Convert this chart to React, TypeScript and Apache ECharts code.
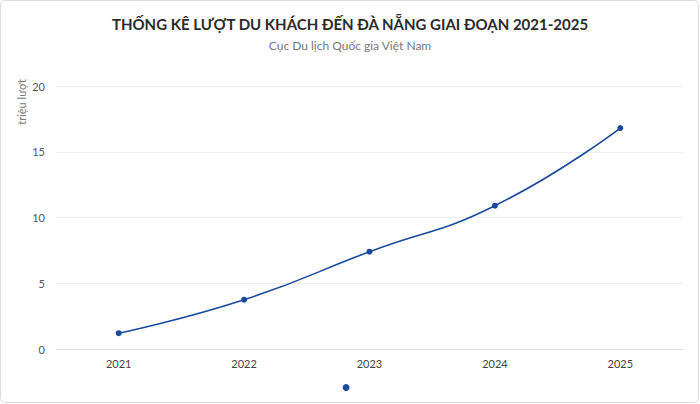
import React, { useEffect, useRef } from "react";
import * as echarts from "echarts";

const categories = ["2021", "2022", "2023", "2024", "2025"];
const visitors = [1.2, 3.75, 7.4, 10.9, 16.8];
const seriesName = " ";

export default function App() {
  const ref = useRef<HTMLDivElement>(null);
  useEffect(() => {
    document.body.style.margin = "0";
    const chart = echarts.init(ref.current!, null, { renderer: "svg" });
    chart.setOption({
      animation: false,
      backgroundColor: "#fff",
      textStyle: { fontFamily: "Lato" },
      title: {
        text: "THỐNG KÊ LƯỢT DU KHÁCH ĐẾN ĐÀ NẴNG GIAI ĐOẠN 2021-2025",
        subtext: "Cục Du lịch Quốc gia Việt Nam",
        left: "center",
        top: 11,
        itemGap: 8,
        textStyle: { fontFamily: "Lato", fontSize: 15, fontWeight: "bold", color: "#2b2b2b" },
        subtextStyle: { fontFamily: "Lato", fontSize: 12, color: "#777" },
      },
      graphic: [
        {
          type: "rect",
          shape: { x: 0.5, y: 0.5, width: 698, height: 402, r: 4 },
          style: { fill: "none", stroke: "#dcdcdc", lineWidth: 1 },
          silent: true,
          z: -1,
        },
        {
          type: "text",
          x: 21,
          y: 102,
          rotation: Math.PI / 2,
          style: {
            text: "triệu lượt",
            fontFamily: "Lato",
            fontSize: 11,
            fill: "#777",
            align: "center",
            verticalAlign: "middle",
          },
        },
      ],
      legend: {
        bottom: 6,
        left: "center",
        icon: "circle",
        itemWidth: 7,
        itemHeight: 7,
        itemGap: 5,
        data: [seriesName],
        textStyle: { fontSize: 11 },
      },
      grid: { left: 56, right: 17, top: 86, bottom: 55 },
      xAxis: {
        type: "category",
        data: categories,
        axisLine: { lineStyle: { color: "#dddddd" } },
        axisTick: { show: false },
        axisLabel: { color: "#444", fontSize: 11, margin: 9, fontFamily: "Lato" },
      },
      yAxis: {
        type: "value",
        min: 0,
        max: 20,
        interval: 5,
        axisLine: { show: false },
        axisTick: { show: false },
        axisLabel: { color: "#555", fontSize: 11, margin: 11, fontFamily: "Lato" },
        splitLine: { lineStyle: { color: "#eeeeee" } },
      },
      series: [
        {
          name: seriesName,
          type: "line",
          data: visitors,
          smooth: true,
          symbol: "circle",
          symbolSize: 6,
          itemStyle: { color: "#1a4a9c" },
          lineStyle: { color: "#1a4a9c", width: 1.6 },
        },
      ],
    });
    return () => chart.dispose();
  }, []);
  return <div ref={ref} style={{ width: 700, height: 404 }} />;
}
